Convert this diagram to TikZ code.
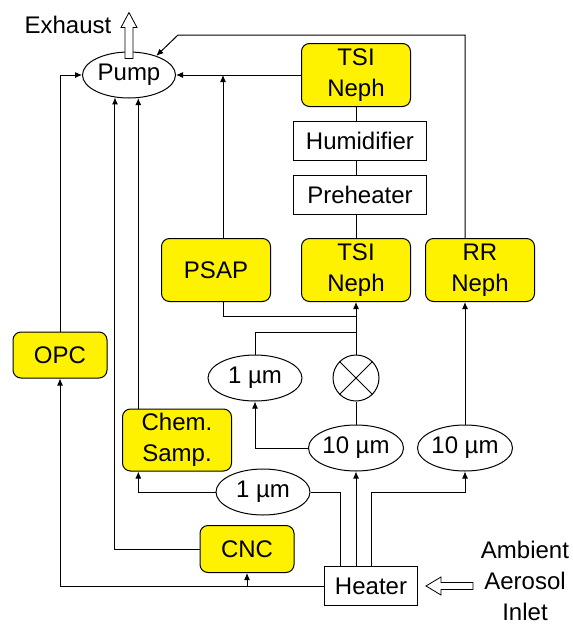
\documentclass[tikz,border=0pt]{standalone}
\usepackage{fontspec}
\setmainfont{Liberation Sans}
\usetikzlibrary{arrows.meta,shapes.geometric,calc}

\begin{document}
\begin{tikzpicture}[x=1pt,y=-1pt,>={Latex[length=7pt,width=6pt]},line width=1pt,
  every node/.style={font=\fontsize{24}{31}\selectfont},
  inst/.style={draw,rounded corners=8pt,fill=yellow,minimum width=109pt,minimum height=63pt,align=center,inner sep=2pt},
  box/.style={draw,fill=white,minimum width=133pt,minimum height=39pt,inner sep=2pt},
  cut/.style={draw,ellipse,minimum width=94pt,minimum height=46pt,inner sep=0pt},
  hollow/.style={draw,fill=white,line width=0.8pt}]
\useasboundingbox (0,0) rectangle (573,627);
% instruments and boxes
\node[cut,minimum width=93pt] (pump) at (129,75) {Pump};
\node (exhaust) at (68,25) {Exhaust};
\node[inst] (tsitop) at (356,75) {TSI\\Neph};
\node[box] (humid) at (360,141) {Humidifier};
\node[box] (preheat) at (360,195) {Preheater};
\node[inst] (tsibot) at (356,270) {TSI\\Neph};
\node[inst] (rrneph) at (480,270) {RR\\Neph};
\node[inst] (psap) at (216,270) {PSAP};
\node[inst,minimum width=94pt,minimum height=46pt] (opc) at (60,355) {OPC};
\node[inst,minimum height=62pt] (chem) at (177,440) {Chem.\\Samp.};
\node[inst,minimum width=94pt,minimum height=47pt] (cnc) at (247,549) {CNC};
\node[box,minimum width=93pt] (heater) at (371,586) {Heater};
\node[align=center] (ambient) at (525,581) {Ambient\\Aerosol\\Inlet};
% impactors and valve
\node[cut] (fine1) at (255,378) {1 µm};
\node[draw,circle,minimum size=46pt,inner sep=0pt] (valve) at (356,378) {};
\node[cut] (coarse1) at (356,448) {10 µm};
\node[cut] (coarse2) at (465,448) {10 µm};
\node[cut] (fine2) at (263,492) {1 µm};
\coordinate (psapline) at (223,0);
\coordinate (top) at (178,35);
\coordinate (merge) at (356,316);
\coordinate (merge2) at (356,332);
\coordinate (split) at (340,0);
% lines to pump
\draw[->] (opc.north) |- (pump.west);
\draw[->] (cnc.west) -| (pump.-122);
\draw[->] (pump.-68 |- chem.north) -- (pump.-68);
\draw[->] (tsitop.west) -- (pump.east);
\draw[->] (psap.north -| psapline) -- (psapline |- pump.east);
\draw[->] (rrneph.north -| coarse2) |- (top) -- (pump.35);
% humidified neph stack
\draw (tsitop.south) -- (tsitop.south |- humid.north);
\draw (tsitop.south |- humid.south) -- (tsitop.south |- preheat.north);
\draw (tsitop.south |- preheat.south) -- (tsibot.north);
\draw (psap.south -| psapline) |- (merge);
\draw (fine1.north) |- (merge2);
\draw[->] (valve.north) -- (tsibot.south);
\draw (valve.north east) -- (valve.south west) (valve.north west) -- (valve.south east);
\draw (coarse1.north) -- (valve.south);
\draw[->] (coarse1.west) -| (fine1.south);
\draw[->] (coarse2.north) -- (coarse2.north |- rrneph.south);
% from heater
\draw[->] (heater.north -| coarse1) -- (coarse1.south);
\draw[->] (heater.north) |- (fine2 -| coarse2) -- (coarse2.south);
\draw (heater.north -| split) |- (fine2.east);
\draw[->] (fine2.west) -| (pump.-68 |- chem.south);
\draw[->] (heater.west) -| (opc.south);
\draw[->] (cnc.south |- heater.west) -- (cnc.south);
% open arrows
\draw[hollow] ($(pump.north)+(-4,7)$) -- ++(0,-31) -- ++(-4,0) -- ++(8,-15) -- ++(8,15) -- ++(-4,0) -- ++(0,31) -- cycle;
\draw[hollow] ($(heater.east)+(8,0)$) -- ++(15,-9) -- ++(0,5.5) -- ++(32,0) -- ++(0,7) -- ++(-32,0) -- ++(0,5.5) -- cycle;
\end{tikzpicture}
\end{document}
